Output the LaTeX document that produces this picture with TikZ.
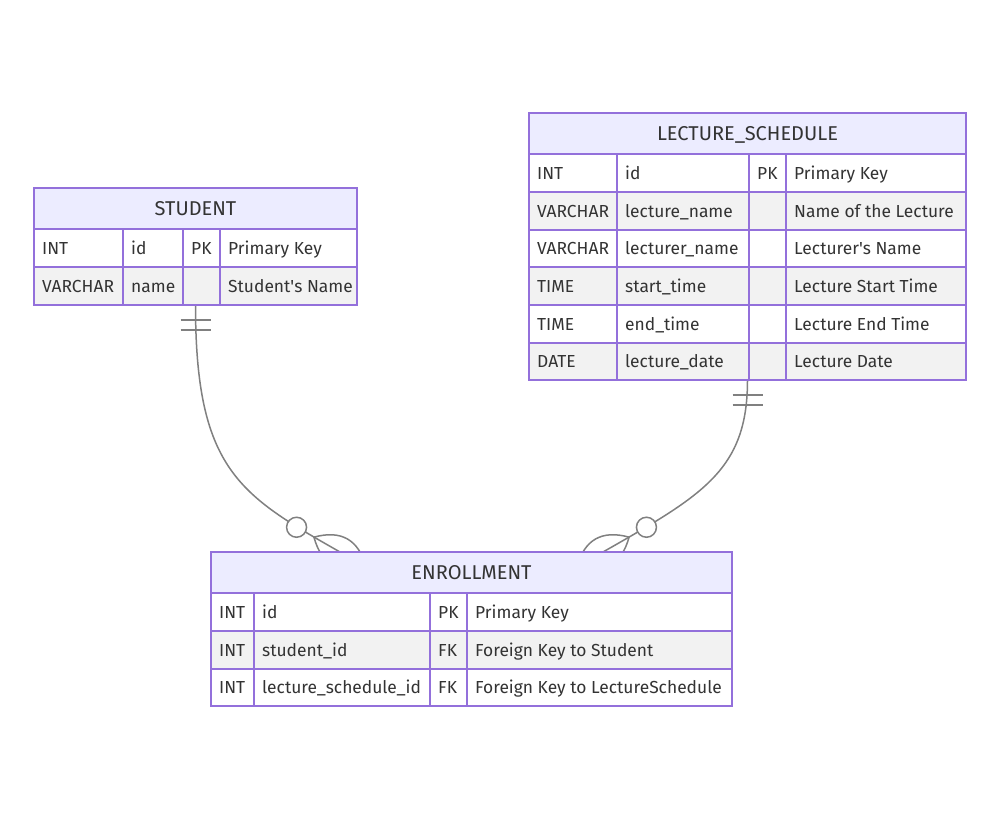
\documentclass[tikz,border=0pt]{standalone}
\usepackage{fontspec}
\setmainfont{Fira Sans}
\usetikzlibrary{calc}
\pgfdeclarelayer{bg}
\pgfdeclarelayer{edges}
\pgfsetlayers{bg,edges,main}
\definecolor{erborder}{HTML}{9370DB}
\definecolor{erhead}{HTML}{ECECFF}
\definecolor{errow}{HTML}{F2F2F2}
\definecolor{ertext}{HTML}{333333}
\definecolor{erline}{HTML}{808080}
\tikzset{
  cellbox/.style={draw=erborder, line width=1.8pt, anchor=north west, inner sep=0pt, outer sep=0pt},
  celltext/.style={anchor=west, inner sep=0pt, text=ertext, font=\fontsize{17.4}{20}\selectfont, text height=12pt, text depth=0pt},
  headbox/.style={cellbox, fill=erhead, text=ertext, font=\fontsize{20}{24}\selectfont, text height=13.8pt, text depth=0pt},
  framebox/.style={draw=erborder, line width=1.8pt, anchor=north west, inner sep=0pt, outer sep=0pt},
  rel/.style={draw=erline, line width=1.5pt},
}
\newcommand{\ercell}[7]{%
  \node[cellbox, fill=#6, minimum width={(#3)-(#2)}, minimum height={(#5)-(#4)}] (#1) at (#2,#4) {};
  \node[celltext] (#1t) at ([xshift=8pt]#1.west) {#7};
}
\begin{document}
\begin{tikzpicture}[x=1pt,y=-1pt]
\begin{pgfonlayer}{bg}
  \fill[white] (0,0) rectangle (1000,820);
\end{pgfonlayer}
% ---------------- STUDENT
\node[headbox, minimum width=323, minimum height=41] (studenth) at (34,188) {STUDENT};
\ercell{s11}{34}{123}{229}{267}{white}{INT}
\ercell{s12}{123}{183}{229}{267}{white}{id}
\ercell{s13}{183}{220}{229}{267}{white}{PK}
\ercell{s14}{220}{357}{229}{267}{white}{Primary Key}
\ercell{s21}{34}{123}{267}{305}{errow}{VARCHAR}
\ercell{s22}{123}{183}{267}{305}{errow}{name}
\ercell{s23}{183}{220}{267}{305}{errow}{}
\ercell{s24}{220}{357}{267}{305}{errow}{Student\textquotesingle s Name}
\node[framebox, minimum width=323, minimum height=117] (student) at (34,188) {};
% ---------------- LECTURE_SCHEDULE
\node[headbox, minimum width=437, minimum height=41] (lectureh) at (529,113) {LECTURE\_SCHEDULE};
\ercell{l11}{529}{617}{154}{192}{white}{INT}
\ercell{l12}{617}{749}{154}{192}{white}{id}
\ercell{l13}{749}{786}{154}{192}{white}{PK}
\ercell{l14}{786}{966}{154}{192}{white}{Primary Key}
\ercell{l21}{529}{617}{192}{230}{errow}{VARCHAR}
\ercell{l22}{617}{749}{192}{230}{errow}{lecture\_name}
\ercell{l23}{749}{786}{192}{230}{errow}{}
\ercell{l24}{786}{966}{192}{230}{errow}{Name of the Lecture}
\ercell{l31}{529}{617}{230}{267}{white}{VARCHAR}
\ercell{l32}{617}{749}{230}{267}{white}{lecturer\_name}
\ercell{l33}{749}{786}{230}{267}{white}{}
\ercell{l34}{786}{966}{230}{267}{white}{Lecturer\textquotesingle s Name}
\ercell{l41}{529}{617}{267}{305}{errow}{TIME}
\ercell{l42}{617}{749}{267}{305}{errow}{start\_time}
\ercell{l43}{749}{786}{267}{305}{errow}{}
\ercell{l44}{786}{966}{267}{305}{errow}{Lecture Start Time}
\ercell{l51}{529}{617}{305}{343}{white}{TIME}
\ercell{l52}{617}{749}{305}{343}{white}{end\_time}
\ercell{l53}{749}{786}{305}{343}{white}{}
\ercell{l54}{786}{966}{305}{343}{white}{Lecture End Time}
\ercell{l61}{529}{617}{343}{380}{errow}{DATE}
\ercell{l62}{617}{749}{343}{380}{errow}{lecture\_date}
\ercell{l63}{749}{786}{343}{380}{errow}{}
\ercell{l64}{786}{966}{343}{380}{errow}{Lecture Date}
\node[framebox, minimum width=437, minimum height=267] (lecture) at (529,113) {};
% ---------------- ENROLLMENT
\node[headbox, minimum width=521, minimum height=41] (enrollmenth) at (211,552) {ENROLLMENT};
\ercell{e11}{211}{254}{593}{631}{white}{INT}
\ercell{e12}{254}{430}{593}{631}{white}{id}
\ercell{e13}{430}{467}{593}{631}{white}{PK}
\ercell{e14}{467}{732}{593}{631}{white}{Primary Key}
\ercell{e21}{211}{254}{631}{669}{errow}{INT}
\ercell{e22}{254}{430}{631}{669}{errow}{student\_id}
\ercell{e23}{430}{467}{631}{669}{errow}{FK}
\ercell{e24}{467}{732}{631}{669}{errow}{Foreign Key to Student}
\ercell{e31}{211}{254}{669}{706}{white}{INT}
\ercell{e32}{254}{430}{669}{706}{white}{lecture\_schedule\_id}
\ercell{e33}{430}{467}{669}{706}{white}{FK}
\ercell{e34}{467}{732}{669}{706}{white}{Foreign Key to LectureSchedule}
\node[framebox, minimum width=521, minimum height=154] (enrollment) at (211,552) {};
% ---------------- relationships
\coordinate (eL) at ([xshift=-131.5pt]enrollment.north);
\coordinate (eR) at ([xshift=131.5pt]enrollment.north);
\begin{pgfonlayer}{edges}
  % STUDENT ||--o{ ENROLLMENT
  \draw[rel] (student.south) .. controls ($(student.south)+(0,165)$) and ($(eL)+(-100,-57)$) .. (eL);
  \draw[rel] ($(student.south)+(-15,15)$) -- ++(30,0);
  \draw[rel] ($(student.south)+(-15,25)$) -- ++(30,0);
  \draw[rel] ($(eL)+(-26.06,-14.86)$) .. controls ($(eL)+(-18.59,12.42)$) and ($(eL)+(-1.22,22.33)$) .. ($(eL)+(26.06,14.86)$)
             .. controls ($(eL)+(18.59,-12.42)$) and ($(eL)+(1.22,-22.33)$) .. cycle;
  \draw[rel, fill=white] ($(eL)+(-43.44,-24.76)$) circle[radius=10pt];
  % LECTURE_SCHEDULE ||--o{ ENROLLMENT
  \draw[rel] (lecture.south) .. controls ($(lecture.south)+(0,90)$) and ($(eR)+(100,-57)$) .. (eR);
  \draw[rel] ($(lecture.south)+(-15,15)$) -- ++(30,0);
  \draw[rel] ($(lecture.south)+(-15,25)$) -- ++(30,0);
  \draw[rel] ($(eR)+(26.06,-14.86)$) .. controls ($(eR)+(18.59,12.42)$) and ($(eR)+(1.22,22.33)$) .. ($(eR)+(-26.06,14.86)$)
             .. controls ($(eR)+(-18.59,-12.42)$) and ($(eR)+(-1.22,-22.33)$) .. cycle;
  \draw[rel, fill=white] ($(eR)+(43.44,-24.76)$) circle[radius=10pt];
\end{pgfonlayer}
\end{tikzpicture}
\end{document}
